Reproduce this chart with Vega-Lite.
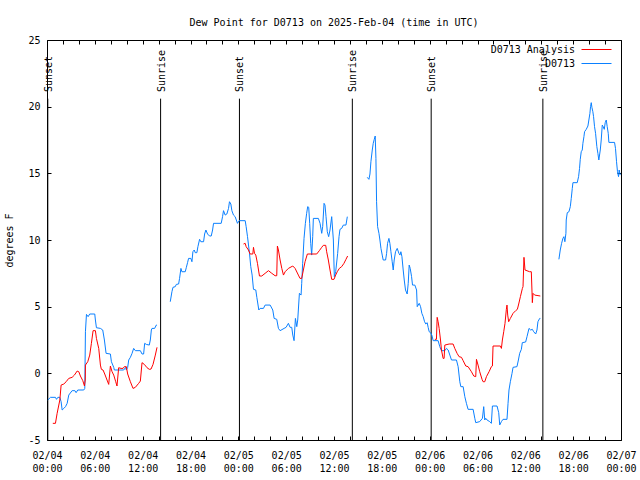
{
"$schema": "https://vega.github.io/schema/vega-lite/v6.json",
"width": 574,
"height": 400,
"autosize": {"type": "none"},
"padding": {"left": 47, "top": 40, "right": 19, "bottom": 40},
"background": "white",
"title": {"text": "Dew Point for D0713 on 2025-Feb-04 (time in UTC)", "font": "DejaVu Sans Mono", "fontSize": 10, "fontWeight": "normal", "color": "black", "anchor": "middle", "offset": 7},
"config": {
  "view": {"stroke": "black", "strokeWidth": 1},
  "font": "DejaVu Sans Mono",
  "axis": {"domain": false, "grid": false, "tickColor": "black", "tickSize": 4, "offset": -4, "tickWidth": 1, "labelFont": "DejaVu Sans Mono", "labelFontSize": 10, "labelColor": "black", "titleFont": "DejaVu Sans Mono", "titleFontSize": 10, "titleFontWeight": "normal", "titleColor": "black", "labelOverlap": false, "labelFlush": false, "labelBound": false},
  "legend": {"labelFont": "DejaVu Sans Mono", "labelFontSize": 10, "labelColor": "black"}
},
"resolve": {"axis": {"x": "independent", "y": "independent"}},
"layer": [
  {
    "data": {"name": "sun", "values": [
      {"hour": 0.1, "event": "Sunset"},
      {"hour": 14.25, "event": "Sunrise"},
      {"hour": 24.14, "event": "Sunset"},
      {"hour": 38.3, "event": "Sunrise"},
      {"hour": 48.19, "event": "Sunset"},
      {"hour": 62.2, "event": "Sunrise"}
    ]},
    "mark": {"type": "rule", "color": "black", "strokeWidth": 1},
    "encoding": {
      "x": {"field": "hour", "type": "quantitative", "scale": {"domain": [0, 72], "nice": false, "zero": false},
            "axis": {"orient": "bottom", "title": null, "values": [0,2,4,6,8,10,12,14,16,18,20,22,24,26,28,30,32,34,36,38,40,42,44,46,48,50,52,54,56,58,60,62,64,66,68,70,72],
                     "labelPadding": 10, "labelLineHeight": 13,
                     "labelExpr": "datum.value % 6 == 0 ? ['02/0' + (4 + floor(datum.value / 24)), (datum.value % 24 < 10 ? '0' : '') + (datum.value % 24) + ':00'] : ''"}},
      "y": {"datum": 20.6, "type": "quantitative", "scale": {"domain": [-5, 25], "nice": false, "zero": false},
            "axis": {"orient": "left", "title": "degrees F", "values": [-5, 0, 5, 10, 15, 20, 25], "labelPadding": 7, "titlePadding": 13, "labelExpr": "datum.value + ''"}},
      "y2": {"datum": -5}
    }
  },
  {
    "data": {"name": "sun"},
    "mark": {"type": "text", "angle": 270, "align": "left", "baseline": "middle", "font": "DejaVu Sans Mono", "fontSize": 10, "color": "black", "dy": 1},
    "encoding": {
      "x": {"field": "hour", "type": "quantitative", "axis": null},
      "y": {"datum": 21.1, "type": "quantitative", "axis": null},
      "text": {"field": "event"}
    }
  },
  {
    "data": {"values": [
{"series":"D0713","seg":1,"hour":0.10,"dp":-2.00},{"series":"D0713","seg":1,"hour":0.44,"dp":-1.80},{"series":"D0713","seg":1,"hour":1.06,"dp":-1.80},{"series":"D0713","seg":1,"hour":1.19,"dp":-1.95},{"series":"D0713","seg":1,"hour":1.36,"dp":-1.80},{"series":"D0713","seg":1,"hour":1.61,"dp":-1.80},{"series":"D0713","seg":1,"hour":1.77,"dp":-2.13},{"series":"D0713","seg":1,"hour":1.90,"dp":-2.75},{"series":"D0713","seg":1,"hour":2.11,"dp":-2.63},{"series":"D0713","seg":1,"hour":2.32,"dp":-2.50},{"series":"D0713","seg":1,"hour":2.53,"dp":-2.25},{"series":"D0713","seg":1,"hour":2.73,"dp":-1.63},{"series":"D0713","seg":1,"hour":3.15,"dp":-1.30},{"series":"D0713","seg":1,"hour":3.50,"dp":-1.30},{"series":"D0713","seg":1,"hour":3.65,"dp":-1.45},{"series":"D0713","seg":1,"hour":3.86,"dp":-1.25},{"series":"D0713","seg":1,"hour":4.61,"dp":-1.25},{"series":"D0713","seg":1,"hour":4.74,"dp":-1.13},{"series":"D0713","seg":1,"hour":4.82,"dp":3.12},{"series":"D0713","seg":1,"hour":4.95,"dp":4.42},{"series":"D0713","seg":1,"hour":5.16,"dp":4.25},{"series":"D0713","seg":1,"hour":5.36,"dp":4.45},{"series":"D0713","seg":1,"hour":5.99,"dp":4.45},{"series":"D0713","seg":1,"hour":6.07,"dp":4.00},{"series":"D0713","seg":1,"hour":6.20,"dp":3.42},{"series":"D0713","seg":1,"hour":6.70,"dp":3.37},{"series":"D0713","seg":1,"hour":6.99,"dp":3.25},{"series":"D0713","seg":1,"hour":7.20,"dp":2.50},{"series":"D0713","seg":1,"hour":7.41,"dp":1.50},{"series":"D0713","seg":1,"hour":7.95,"dp":1.45},{"series":"D0713","seg":1,"hour":8.08,"dp":0.87},{"series":"D0713","seg":1,"hour":8.37,"dp":0.45},{"series":"D0713","seg":1,"hour":8.45,"dp":0.25},{"series":"D0713","seg":1,"hour":9.62,"dp":0.25},{"series":"D0713","seg":1,"hour":9.87,"dp":0.45},{"series":"D0713","seg":1,"hour":9.95,"dp":0.25},{"series":"D0713","seg":1,"hour":10.12,"dp":0.45},{"series":"D0713","seg":1,"hour":10.25,"dp":1.00},{"series":"D0713","seg":1,"hour":10.46,"dp":1.20},{"series":"D0713","seg":1,"hour":10.67,"dp":1.50},{"series":"D0713","seg":1,"hour":10.87,"dp":1.87},{"series":"D0713","seg":1,"hour":11.08,"dp":1.70},{"series":"D0713","seg":1,"hour":11.71,"dp":1.70},{"series":"D0713","seg":1,"hour":11.92,"dp":1.45},{"series":"D0713","seg":1,"hour":12.12,"dp":1.45},{"series":"D0713","seg":1,"hour":12.25,"dp":2.25},{"series":"D0713","seg":1,"hour":12.46,"dp":2.17},{"series":"D0713","seg":1,"hour":12.83,"dp":2.12},{"series":"D0713","seg":1,"hour":12.96,"dp":2.50},{"series":"D0713","seg":1,"hour":13.09,"dp":3.25},{"series":"D0713","seg":1,"hour":13.17,"dp":3.37},{"series":"D0713","seg":1,"hour":13.50,"dp":3.37},{"series":"D0713","seg":1,"hour":13.71,"dp":3.62},{"series":"D0713","seg":1,"hour":13.80,"dp":3.62},
{"series":"D0713 Analysis","seg":1,"hour":0.73,"dp":-3.75},{"series":"D0713 Analysis","seg":1,"hour":1.06,"dp":-3.75},{"series":"D0713 Analysis","seg":1,"hour":1.27,"dp":-3.0},{"series":"D0713 Analysis","seg":1,"hour":1.61,"dp":-2.0},{"series":"D0713 Analysis","seg":1,"hour":1.77,"dp":-0.88},{"series":"D0713 Analysis","seg":1,"hour":2.11,"dp":-0.80},{"series":"D0713 Analysis","seg":1,"hour":2.40,"dp":-0.63},{"series":"D0713 Analysis","seg":1,"hour":2.73,"dp":-0.38},{"series":"D0713 Analysis","seg":1,"hour":3.15,"dp":-0.30},{"series":"D0713 Analysis","seg":1,"hour":3.44,"dp":-0.13},{"series":"D0713 Analysis","seg":1,"hour":3.78,"dp":0.17},{"series":"D0713 Analysis","seg":1,"hour":3.99,"dp":0.12},{"series":"D0713 Analysis","seg":1,"hour":4.19,"dp":-0.2},{"series":"D0713 Analysis","seg":1,"hour":4.49,"dp":-0.55},{"series":"D0713 Analysis","seg":1,"hour":4.70,"dp":-0.95},{"series":"D0713 Analysis","seg":1,"hour":4.80,"dp":-0.5},{"series":"D0713 Analysis","seg":1,"hour":4.82,"dp":0.62},{"series":"D0713 Analysis","seg":1,"hour":5.11,"dp":0.87},{"series":"D0713 Analysis","seg":1,"hour":5.36,"dp":1.37},{"series":"D0713 Analysis","seg":1,"hour":5.57,"dp":2.25},{"series":"D0713 Analysis","seg":1,"hour":5.78,"dp":3.2},{"series":"D0713 Analysis","seg":1,"hour":6.07,"dp":3.2},{"series":"D0713 Analysis","seg":1,"hour":6.20,"dp":2.62},{"series":"D0713 Analysis","seg":1,"hour":6.49,"dp":1.87},{"series":"D0713 Analysis","seg":1,"hour":6.70,"dp":0.62},{"series":"D0713 Analysis","seg":1,"hour":6.82,"dp":0.3},{"series":"D0713 Analysis","seg":1,"hour":7.03,"dp":0.25},{"series":"D0713 Analysis","seg":1,"hour":7.24,"dp":-0.05},{"series":"D0713 Analysis","seg":1,"hour":7.53,"dp":-0.5},{"series":"D0713 Analysis","seg":1,"hour":7.74,"dp":-0.83},{"series":"D0713 Analysis","seg":1,"hour":7.95,"dp":0.55},{"series":"D0713 Analysis","seg":1,"hour":8.16,"dp":0.12},{"series":"D0713 Analysis","seg":1,"hour":8.37,"dp":-0.13},{"series":"D0713 Analysis","seg":1,"hour":8.62,"dp":-0.63},{"series":"D0713 Analysis","seg":1,"hour":8.78,"dp":-0.95},{"series":"D0713 Analysis","seg":1,"hour":8.99,"dp":0.42},{"series":"D0713 Analysis","seg":1,"hour":9.29,"dp":0.37},{"series":"D0713 Analysis","seg":1,"hour":9.54,"dp":0.37},{"series":"D0713 Analysis","seg":1,"hour":9.70,"dp":0.5},{"series":"D0713 Analysis","seg":1,"hour":9.95,"dp":0.5},{"series":"D0713 Analysis","seg":1,"hour":10.12,"dp":-0.05},{"series":"D0713 Analysis","seg":1,"hour":10.46,"dp":-0.63},{"series":"D0713 Analysis","seg":1,"hour":10.79,"dp":-1.13},{"series":"D0713 Analysis","seg":1,"hour":11.08,"dp":-1.05},{"series":"D0713 Analysis","seg":1,"hour":11.50,"dp":-0.75},{"series":"D0713 Analysis","seg":1,"hour":11.71,"dp":-0.58},{"series":"D0713 Analysis","seg":1,"hour":11.92,"dp":0.8},{"series":"D0713 Analysis","seg":1,"hour":12.21,"dp":0.67},{"series":"D0713 Analysis","seg":1,"hour":12.55,"dp":0.42},{"series":"D0713 Analysis","seg":1,"hour":12.83,"dp":0.3},{"series":"D0713 Analysis","seg":1,"hour":13.05,"dp":0.32},{"series":"D0713 Analysis","seg":1,"hour":13.30,"dp":0.67},{"series":"D0713 Analysis","seg":1,"hour":13.59,"dp":1.37},{"series":"D0713 Analysis","seg":1,"hour":13.80,"dp":1.95},
{"series":"D0713","seg":2,"hour":15.46,"dp":5.37},{"series":"D0713","seg":2,"hour":15.67,"dp":6.12},{"series":"D0713","seg":2,"hour":15.80,"dp":6.45},{"series":"D0713","seg":2,"hour":16.09,"dp":6.5},{"series":"D0713","seg":2,"hour":16.22,"dp":6.67},{"series":"D0713","seg":2,"hour":16.51,"dp":6.7},{"series":"D0713","seg":2,"hour":16.63,"dp":7.12},{"series":"D0713","seg":2,"hour":16.80,"dp":7.87},{"series":"D0713","seg":2,"hour":16.92,"dp":7.62},{"series":"D0713","seg":2,"hour":17.34,"dp":7.62},{"series":"D0713","seg":2,"hour":17.47,"dp":7.92},{"series":"D0713","seg":2,"hour":17.63,"dp":8.3},{"series":"D0713","seg":2,"hour":17.76,"dp":8.62},{"series":"D0713","seg":2,"hour":18.05,"dp":8.62},{"series":"D0713","seg":2,"hour":18.18,"dp":8.37},{"series":"D0713","seg":2,"hour":18.30,"dp":9.12},{"series":"D0713","seg":2,"hour":18.47,"dp":9.25},{"series":"D0713","seg":2,"hour":18.59,"dp":9.05},{"series":"D0713","seg":2,"hour":18.80,"dp":9.05},{"series":"D0713","seg":2,"hour":18.93,"dp":9.5},{"series":"D0713","seg":2,"hour":19.14,"dp":10.05},{"series":"D0713","seg":2,"hour":19.30,"dp":9.87},{"series":"D0713","seg":2,"hour":19.64,"dp":9.87},{"series":"D0713","seg":2,"hour":19.77,"dp":10.45},{"series":"D0713","seg":2,"hour":19.93,"dp":10.75},{"series":"D0713","seg":2,"hour":20.14,"dp":10.45},{"series":"D0713","seg":2,"hour":20.39,"dp":10.3},{"series":"D0713","seg":2,"hour":20.60,"dp":10.3},{"series":"D0713","seg":2,"hour":20.77,"dp":10.75},{"series":"D0713","seg":2,"hour":20.89,"dp":11.25},{"series":"D0713","seg":2,"hour":21.85,"dp":11.25},{"series":"D0713","seg":2,"hour":22.02,"dp":11.75},{"series":"D0713","seg":2,"hour":22.14,"dp":12.2},{"series":"D0713","seg":2,"hour":22.35,"dp":11.87},{"series":"D0713","seg":2,"hour":22.56,"dp":11.95},{"series":"D0713","seg":2,"hour":22.77,"dp":12.37},{"series":"D0713","seg":2,"hour":22.89,"dp":12.87},{"series":"D0713","seg":2,"hour":23.06,"dp":12.7},{"series":"D0713","seg":2,"hour":23.19,"dp":12.2},{"series":"D0713","seg":2,"hour":23.39,"dp":11.87},{"series":"D0713","seg":2,"hour":23.60,"dp":11.75},{"series":"D0713","seg":2,"hour":23.89,"dp":11.25},{"series":"D0713","seg":2,"hour":24.10,"dp":11.45},{"series":"D0713","seg":2,"hour":24.86,"dp":11.45},{"series":"D0713","seg":2,"hour":24.98,"dp":11.0},{"series":"D0713","seg":2,"hour":25.15,"dp":10.25},{"series":"D0713","seg":2,"hour":25.40,"dp":9.0},{"series":"D0713","seg":2,"hour":25.56,"dp":8.0},{"series":"D0713","seg":2,"hour":25.73,"dp":7.37},{"series":"D0713","seg":2,"hour":25.90,"dp":6.3},{"series":"D0713","seg":2,"hour":26.19,"dp":6.25},{"series":"D0713","seg":2,"hour":26.32,"dp":5.7},{"series":"D0713","seg":2,"hour":26.57,"dp":4.75},{"series":"D0713","seg":2,"hour":26.73,"dp":4.87},{"series":"D0713","seg":2,"hour":27.15,"dp":4.87},{"series":"D0713","seg":2,"hour":27.36,"dp":5.12},{"series":"D0713","seg":2,"hour":27.99,"dp":5.12},{"series":"D0713","seg":2,"hour":28.32,"dp":4.75},{"series":"D0713","seg":2,"hour":28.49,"dp":4.12},{"series":"D0713","seg":2,"hour":28.82,"dp":4.05},{"series":"D0713","seg":2,"hour":29.03,"dp":3.37},{"series":"D0713","seg":2,"hour":29.24,"dp":3.2},{"series":"D0713","seg":2,"hour":29.74,"dp":3.37},{"series":"D0713","seg":2,"hour":29.99,"dp":3.45},{"series":"D0713","seg":2,"hour":30.28,"dp":3.75},{"series":"D0713","seg":2,"hour":30.49,"dp":3.45},{"series":"D0713","seg":2,"hour":30.70,"dp":3.45},{"series":"D0713","seg":2,"hour":30.83,"dp":2.87},{"series":"D0713","seg":2,"hour":30.99,"dp":2.45},{"series":"D0713","seg":2,"hour":31.16,"dp":4.12},{"series":"D0713","seg":2,"hour":31.33,"dp":3.5},{"series":"D0713","seg":2,"hour":31.45,"dp":4.0},{"series":"D0713","seg":2,"hour":31.66,"dp":6.0},{"series":"D0713","seg":2,"hour":31.87,"dp":5.87},{"series":"D0713","seg":2,"hour":31.95,"dp":6.75},{"series":"D0713","seg":2,"hour":32.07,"dp":8.25},{"series":"D0713","seg":2,"hour":32.24,"dp":10.12},{"series":"D0713","seg":2,"hour":32.41,"dp":11.25},{"series":"D0713","seg":2,"hour":32.57,"dp":12.0},{"series":"D0713","seg":2,"hour":32.70,"dp":12.5},{"series":"D0713","seg":2,"hour":32.83,"dp":12.45},{"series":"D0713","seg":2,"hour":32.95,"dp":11.25},{"series":"D0713","seg":2,"hour":33.08,"dp":9.75},{"series":"D0713","seg":2,"hour":33.20,"dp":8.87},{"series":"D0713","seg":2,"hour":33.33,"dp":10.25},{"series":"D0713","seg":2,"hour":33.41,"dp":11.62},{"series":"D0713","seg":2,"hour":34.04,"dp":11.62},{"series":"D0713","seg":2,"hour":34.25,"dp":11.25},{"series":"D0713","seg":2,"hour":34.46,"dp":10.5},{"series":"D0713","seg":2,"hour":34.58,"dp":11.0},{"series":"D0713","seg":2,"hour":34.75,"dp":12.75},{"series":"D0713","seg":2,"hour":34.87,"dp":12.62},{"series":"D0713","seg":2,"hour":35.00,"dp":11.75},{"series":"D0713","seg":2,"hour":35.16,"dp":10.62},{"series":"D0713","seg":2,"hour":35.33,"dp":10.25},{"series":"D0713","seg":2,"hour":35.50,"dp":10.75},{"series":"D0713","seg":2,"hour":35.71,"dp":11.75},{"series":"D0713","seg":2,"hour":35.92,"dp":10.0},{"series":"D0713","seg":2,"hour":36.04,"dp":7.25},{"series":"D0713","seg":2,"hour":36.21,"dp":7.62},{"series":"D0713","seg":2,"hour":36.46,"dp":9.0},{"series":"D0713","seg":2,"hour":36.63,"dp":10.25},{"series":"D0713","seg":2,"hour":36.75,"dp":10.8},{"series":"D0713","seg":2,"hour":36.96,"dp":10.87},{"series":"D0713","seg":2,"hour":37.17,"dp":11.12},{"series":"D0713","seg":2,"hour":37.50,"dp":11.12},{"series":"D0713","seg":2,"hour":37.67,"dp":11.75},
{"series":"D0713 Analysis","seg":2,"hour":24.65,"dp":9.7},{"series":"D0713 Analysis","seg":2,"hour":24.86,"dp":9.75},{"series":"D0713 Analysis","seg":2,"hour":24.98,"dp":9.5},{"series":"D0713 Analysis","seg":2,"hour":25.27,"dp":9.25},{"series":"D0713 Analysis","seg":2,"hour":25.48,"dp":8.95},{"series":"D0713 Analysis","seg":2,"hour":25.82,"dp":8.95},{"series":"D0713 Analysis","seg":2,"hour":25.90,"dp":9.45},{"series":"D0713 Analysis","seg":2,"hour":26.03,"dp":9.0},{"series":"D0713 Analysis","seg":2,"hour":26.19,"dp":8.87},{"series":"D0713 Analysis","seg":2,"hour":26.40,"dp":8.25},{"series":"D0713 Analysis","seg":2,"hour":26.65,"dp":7.3},{"series":"D0713 Analysis","seg":2,"hour":26.94,"dp":7.3},{"series":"D0713 Analysis","seg":2,"hour":27.36,"dp":7.5},{"series":"D0713 Analysis","seg":2,"hour":27.78,"dp":7.7},{"series":"D0713 Analysis","seg":2,"hour":28.20,"dp":7.5},{"series":"D0713 Analysis","seg":2,"hour":28.61,"dp":7.32},{"series":"D0713 Analysis","seg":2,"hour":28.82,"dp":7.32},{"series":"D0713 Analysis","seg":2,"hour":28.90,"dp":9.55},{"series":"D0713 Analysis","seg":2,"hour":29.03,"dp":9.25},{"series":"D0713 Analysis","seg":2,"hour":29.24,"dp":8.5},{"series":"D0713 Analysis","seg":2,"hour":29.45,"dp":7.87},{"series":"D0713 Analysis","seg":2,"hour":29.66,"dp":7.37},{"series":"D0713 Analysis","seg":2,"hour":29.87,"dp":7.62},{"series":"D0713 Analysis","seg":2,"hour":30.28,"dp":7.87},{"series":"D0713 Analysis","seg":2,"hour":30.83,"dp":8.05},{"series":"D0713 Analysis","seg":2,"hour":31.12,"dp":7.87},{"series":"D0713 Analysis","seg":2,"hour":31.53,"dp":7.37},{"series":"D0713 Analysis","seg":2,"hour":31.74,"dp":7.12},{"series":"D0713 Analysis","seg":2,"hour":31.95,"dp":7.12},{"series":"D0713 Analysis","seg":2,"hour":32.16,"dp":7.75},{"series":"D0713 Analysis","seg":2,"hour":32.37,"dp":8.37},{"series":"D0713 Analysis","seg":2,"hour":32.66,"dp":8.95},{"series":"D0713 Analysis","seg":2,"hour":33.83,"dp":8.95},{"series":"D0713 Analysis","seg":2,"hour":34.16,"dp":9.2},{"series":"D0713 Analysis","seg":2,"hour":34.46,"dp":9.45},{"series":"D0713 Analysis","seg":2,"hour":34.66,"dp":9.6},{"series":"D0713 Analysis","seg":2,"hour":34.96,"dp":9.6},{"series":"D0713 Analysis","seg":2,"hour":35.08,"dp":9.12},{"series":"D0713 Analysis","seg":2,"hour":35.29,"dp":8.5},{"series":"D0713 Analysis","seg":2,"hour":35.50,"dp":7.75},{"series":"D0713 Analysis","seg":2,"hour":35.71,"dp":7.05},{"series":"D0713 Analysis","seg":2,"hour":36.00,"dp":7.05},{"series":"D0713 Analysis","seg":2,"hour":36.21,"dp":7.37},{"series":"D0713 Analysis","seg":2,"hour":36.41,"dp":7.62},{"series":"D0713 Analysis","seg":2,"hour":36.67,"dp":7.87},{"series":"D0713 Analysis","seg":2,"hour":36.96,"dp":8.0},{"series":"D0713 Analysis","seg":2,"hour":37.25,"dp":8.25},{"series":"D0713 Analysis","seg":2,"hour":37.50,"dp":8.55},{"series":"D0713 Analysis","seg":2,"hour":37.71,"dp":8.8},
{"series":"D0713","seg":3,"hour":40.17,"dp":14.7},{"series":"D0713","seg":3,"hour":40.38,"dp":14.55},{"series":"D0713","seg":3,"hour":40.51,"dp":14.95},{"series":"D0713","seg":3,"hour":40.63,"dp":15.87},{"series":"D0713","seg":3,"hour":40.80,"dp":16.75},{"series":"D0713","seg":3,"hour":40.92,"dp":17.25},{"series":"D0713","seg":3,"hour":41.05,"dp":17.55},{"series":"D0713","seg":3,"hour":41.17,"dp":17.8},{"series":"D0713","seg":3,"hour":41.26,"dp":16.12},{"series":"D0713","seg":3,"hour":41.34,"dp":12.87},{"series":"D0713","seg":3,"hour":41.47,"dp":11.0},{"series":"D0713","seg":3,"hour":41.64,"dp":10.5},{"series":"D0713","seg":3,"hour":41.76,"dp":10.0},{"series":"D0713","seg":3,"hour":41.89,"dp":9.37},{"series":"D0713","seg":3,"hour":42.05,"dp":8.87},{"series":"D0713","seg":3,"hour":42.17,"dp":8.5},{"series":"D0713","seg":3,"hour":42.47,"dp":8.5},{"series":"D0713","seg":3,"hour":42.60,"dp":9.0},{"series":"D0713","seg":3,"hour":42.72,"dp":9.75},{"series":"D0713","seg":3,"hour":42.89,"dp":10.12},{"series":"D0713","seg":3,"hour":43.01,"dp":9.75},{"series":"D0713","seg":3,"hour":43.14,"dp":9.12},{"series":"D0713","seg":3,"hour":43.30,"dp":8.37},{"series":"D0713","seg":3,"hour":43.43,"dp":7.75},{"series":"D0713","seg":3,"hour":43.55,"dp":8.5},{"series":"D0713","seg":3,"hour":43.72,"dp":9.12},{"series":"D0713","seg":3,"hour":43.93,"dp":9.37},{"series":"D0713","seg":3,"hour":44.14,"dp":9.0},{"series":"D0713","seg":3,"hour":44.27,"dp":8.87},{"series":"D0713","seg":3,"hour":44.39,"dp":9.12},{"series":"D0713","seg":3,"hour":44.52,"dp":8.75},{"series":"D0713","seg":3,"hour":44.68,"dp":7.75},{"series":"D0713","seg":3,"hour":44.81,"dp":7.0},{"series":"D0713","seg":3,"hour":44.97,"dp":6.25},{"series":"D0713","seg":3,"hour":45.18,"dp":5.95},{"series":"D0713","seg":3,"hour":45.31,"dp":6.75},{"series":"D0713","seg":3,"hour":45.43,"dp":8.12},{"series":"D0713","seg":3,"hour":45.56,"dp":7.87},{"series":"D0713","seg":3,"hour":45.73,"dp":7.25},{"series":"D0713","seg":3,"hour":45.85,"dp":6.62},{"series":"D0713","seg":3,"hour":46.14,"dp":6.62},{"series":"D0713","seg":3,"hour":46.36,"dp":6.25},{"series":"D0713","seg":3,"hour":46.44,"dp":5.0},{"series":"D0713","seg":3,"hour":46.69,"dp":5.25},{"series":"D0713","seg":3,"hour":46.86,"dp":5.0},{"series":"D0713","seg":3,"hour":47.02,"dp":4.5},{"series":"D0713","seg":3,"hour":47.19,"dp":4.25},{"series":"D0713","seg":3,"hour":47.36,"dp":3.87},{"series":"D0713","seg":3,"hour":47.52,"dp":3.7},{"series":"D0713","seg":3,"hour":47.69,"dp":3.8},{"series":"D0713","seg":3,"hour":47.81,"dp":3.45},{"series":"D0713","seg":3,"hour":47.94,"dp":3.12},{"series":"D0713","seg":3,"hour":48.11,"dp":3.05},{"series":"D0713","seg":3,"hour":48.27,"dp":2.87},{"series":"D0713","seg":3,"hour":48.44,"dp":2.45},{"series":"D0713","seg":3,"hour":49.06,"dp":2.45},{"series":"D0713","seg":3,"hour":49.27,"dp":2.0},{"series":"D0713","seg":3,"hour":49.48,"dp":1.7},{"series":"D0713","seg":3,"hour":49.90,"dp":1.7},{"series":"D0713","seg":3,"hour":50.11,"dp":1.87},{"series":"D0713","seg":3,"hour":50.32,"dp":1.75},{"series":"D0713","seg":3,"hour":50.53,"dp":1.37},{"series":"D0713","seg":3,"hour":50.74,"dp":1.0},{"series":"D0713","seg":3,"hour":51.36,"dp":1.0},{"series":"D0713","seg":3,"hour":51.57,"dp":0.5},{"series":"D0713","seg":3,"hour":51.78,"dp":-0.63},{"series":"D0713","seg":3,"hour":51.91,"dp":-1.0},{"series":"D0713","seg":3,"hour":52.20,"dp":-1.0},{"series":"D0713","seg":3,"hour":52.41,"dp":-1.75},{"series":"D0713","seg":3,"hour":52.61,"dp":-2.25},{"series":"D0713","seg":3,"hour":52.82,"dp":-2.7},{"series":"D0713","seg":3,"hour":53.45,"dp":-2.7},{"series":"D0713","seg":3,"hour":53.66,"dp":-3.37},{"series":"D0713","seg":3,"hour":53.78,"dp":-3.7},{"series":"D0713","seg":3,"hour":54.28,"dp":-3.62},{"series":"D0713","seg":3,"hour":54.62,"dp":-3.37},{"series":"D0713","seg":3,"hour":54.78,"dp":-2.5},{"series":"D0713","seg":3,"hour":54.91,"dp":-3.5},{"series":"D0713","seg":3,"hour":55.03,"dp":-3.37},{"series":"D0713","seg":3,"hour":55.20,"dp":-3.5},{"series":"D0713","seg":3,"hour":55.53,"dp":-3.62},{"series":"D0713","seg":3,"hour":55.74,"dp":-3.75},{"series":"D0713","seg":3,"hour":55.87,"dp":-2.45},{"series":"D0713","seg":3,"hour":56.45,"dp":-2.45},{"series":"D0713","seg":3,"hour":56.66,"dp":-2.95},{"series":"D0713","seg":3,"hour":56.79,"dp":-3.87},{"series":"D0713","seg":3,"hour":57.00,"dp":-3.62},{"series":"D0713","seg":3,"hour":57.20,"dp":-3.45},{"series":"D0713","seg":3,"hour":57.70,"dp":-3.45},{"series":"D0713","seg":3,"hour":57.83,"dp":-2.25},{"series":"D0713","seg":3,"hour":57.95,"dp":-1.25},{"series":"D0713","seg":3,"hour":58.12,"dp":-0.63},{"series":"D0713","seg":3,"hour":58.33,"dp":0.0},{"series":"D0713","seg":3,"hour":58.46,"dp":0.45},{"series":"D0713","seg":3,"hour":58.95,"dp":0.5},{"series":"D0713","seg":3,"hour":59.13,"dp":1.0},{"series":"D0713","seg":3,"hour":59.29,"dp":1.5},{"series":"D0713","seg":3,"hour":59.50,"dp":1.8},{"series":"D0713","seg":3,"hour":59.62,"dp":2.3},{"series":"D0713","seg":3,"hour":60.04,"dp":2.35},{"series":"D0713","seg":3,"hour":60.21,"dp":2.75},{"series":"D0713","seg":3,"hour":60.46,"dp":3.37},{"series":"D0713","seg":3,"hour":60.67,"dp":3.25},{"series":"D0713","seg":3,"hour":60.88,"dp":3.3},{"series":"D0713","seg":3,"hour":61.05,"dp":3.12},{"series":"D0713","seg":3,"hour":61.30,"dp":2.95},{"series":"D0713","seg":3,"hour":61.46,"dp":3.25},{"series":"D0713","seg":3,"hour":61.58,"dp":3.87},{"series":"D0713","seg":3,"hour":61.80,"dp":4.12},{"series":"D0713","seg":3,"hour":61.88,"dp":4.12},
{"series":"D0713 Analysis","seg":3,"hour":48.65,"dp":2.55},{"series":"D0713 Analysis","seg":3,"hour":48.85,"dp":2.55},{"series":"D0713 Analysis","seg":3,"hour":48.94,"dp":4.2},{"series":"D0713 Analysis","seg":3,"hour":49.06,"dp":3.87},{"series":"D0713 Analysis","seg":3,"hour":49.19,"dp":3.37},{"series":"D0713 Analysis","seg":3,"hour":49.36,"dp":2.5},{"series":"D0713 Analysis","seg":3,"hour":49.48,"dp":1.75},{"series":"D0713 Analysis","seg":3,"hour":49.69,"dp":1.12},{"series":"D0713 Analysis","seg":3,"hour":49.81,"dp":1.12},{"series":"D0713 Analysis","seg":3,"hour":49.90,"dp":2.12},{"series":"D0713 Analysis","seg":3,"hour":50.44,"dp":2.2},{"series":"D0713 Analysis","seg":3,"hour":50.94,"dp":2.2},{"series":"D0713 Analysis","seg":3,"hour":51.15,"dp":1.87},{"series":"D0713 Analysis","seg":3,"hour":51.44,"dp":1.5},{"series":"D0713 Analysis","seg":3,"hour":51.69,"dp":1.25},{"series":"D0713 Analysis","seg":3,"hour":51.99,"dp":1.2},{"series":"D0713 Analysis","seg":3,"hour":52.20,"dp":0.95},{"series":"D0713 Analysis","seg":3,"hour":52.53,"dp":0.55},{"series":"D0713 Analysis","seg":3,"hour":52.82,"dp":0.5},{"series":"D0713 Analysis","seg":3,"hour":53.24,"dp":0.12},{"series":"D0713 Analysis","seg":3,"hour":53.53,"dp":-0.2},{"series":"D0713 Analysis","seg":3,"hour":53.78,"dp":-0.25},{"series":"D0713 Analysis","seg":3,"hour":53.87,"dp":1.05},{"series":"D0713 Analysis","seg":3,"hour":54.07,"dp":0.62},{"series":"D0713 Analysis","seg":3,"hour":54.28,"dp":0.12},{"series":"D0713 Analysis","seg":3,"hour":54.57,"dp":-0.45},{"series":"D0713 Analysis","seg":3,"hour":54.70,"dp":-0.63},{"series":"D0713 Analysis","seg":3,"hour":54.91,"dp":-0.63},{"series":"D0713 Analysis","seg":3,"hour":55.12,"dp":-0.25},{"series":"D0713 Analysis","seg":3,"hour":55.45,"dp":0.12},{"series":"D0713 Analysis","seg":3,"hour":55.74,"dp":0.5},{"series":"D0713 Analysis","seg":3,"hour":55.87,"dp":0.55},{"series":"D0713 Analysis","seg":3,"hour":55.95,"dp":2.05},{"series":"D0713 Analysis","seg":3,"hour":56.87,"dp":2.05},{"series":"D0713 Analysis","seg":3,"hour":57.00,"dp":1.87},{"series":"D0713 Analysis","seg":3,"hour":57.12,"dp":2.5},{"series":"D0713 Analysis","seg":3,"hour":57.29,"dp":3.12},{"series":"D0713 Analysis","seg":3,"hour":57.45,"dp":3.75},{"series":"D0713 Analysis","seg":3,"hour":57.62,"dp":4.8},{"series":"D0713 Analysis","seg":3,"hour":57.70,"dp":5.12},{"series":"D0713 Analysis","seg":3,"hour":57.79,"dp":4.37},{"series":"D0713 Analysis","seg":3,"hour":57.91,"dp":3.87},{"series":"D0713 Analysis","seg":3,"hour":58.12,"dp":4.12},{"series":"D0713 Analysis","seg":3,"hour":58.46,"dp":4.5},{"series":"D0713 Analysis","seg":3,"hour":58.79,"dp":4.7},{"series":"D0713 Analysis","seg":3,"hour":59.00,"dp":4.8},{"series":"D0713 Analysis","seg":3,"hour":59.17,"dp":5.2},{"series":"D0713 Analysis","seg":3,"hour":59.38,"dp":5.75},{"series":"D0713 Analysis","seg":3,"hour":59.63,"dp":6.37},{"series":"D0713 Analysis","seg":3,"hour":59.71,"dp":6.5},{"series":"D0713 Analysis","seg":3,"hour":59.83,"dp":8.7},{"series":"D0713 Analysis","seg":3,"hour":59.96,"dp":7.75},{"series":"D0713 Analysis","seg":3,"hour":60.54,"dp":7.62},{"series":"D0713 Analysis","seg":3,"hour":60.75,"dp":7.62},{"series":"D0713 Analysis","seg":3,"hour":60.83,"dp":6.25},{"series":"D0713 Analysis","seg":3,"hour":60.88,"dp":5.3},{"series":"D0713 Analysis","seg":3,"hour":60.96,"dp":6.0},{"series":"D0713 Analysis","seg":3,"hour":61.17,"dp":5.87},{"series":"D0713 Analysis","seg":3,"hour":61.88,"dp":5.8},
{"series":"D0713","seg":4,"hour":64.21,"dp":8.55},{"series":"D0713","seg":4,"hour":64.38,"dp":9.25},{"series":"D0713","seg":4,"hour":64.55,"dp":9.75},{"series":"D0713","seg":4,"hour":64.71,"dp":10.12},{"series":"D0713","seg":4,"hour":64.84,"dp":10.25},{"series":"D0713","seg":4,"hour":64.96,"dp":9.87},{"series":"D0713","seg":4,"hour":65.09,"dp":10.5},{"series":"D0713","seg":4,"hour":65.13,"dp":11.5},{"series":"D0713","seg":4,"hour":65.26,"dp":12.05},{"series":"D0713","seg":4,"hour":65.47,"dp":12.12},{"series":"D0713","seg":4,"hour":65.64,"dp":12.5},{"series":"D0713","seg":4,"hour":65.76,"dp":13.12},{"series":"D0713","seg":4,"hour":65.89,"dp":13.87},{"series":"D0713","seg":4,"hour":65.97,"dp":14.3},{"series":"D0713","seg":4,"hour":66.51,"dp":14.3},{"series":"D0713","seg":4,"hour":66.68,"dp":14.75},{"series":"D0713","seg":4,"hour":66.80,"dp":15.37},{"series":"D0713","seg":4,"hour":66.89,"dp":16.05},{"series":"D0713","seg":4,"hour":67.01,"dp":16.62},{"series":"D0713","seg":4,"hour":67.14,"dp":16.75},{"series":"D0713","seg":4,"hour":67.22,"dp":17.25},{"series":"D0713","seg":4,"hour":67.35,"dp":17.75},{"series":"D0713","seg":4,"hour":67.43,"dp":18.12},{"series":"D0713","seg":4,"hour":67.64,"dp":18.3},{"series":"D0713","seg":4,"hour":67.85,"dp":18.55},{"series":"D0713","seg":4,"hour":67.97,"dp":19.0},{"series":"D0713","seg":4,"hour":68.10,"dp":19.5},{"series":"D0713","seg":4,"hour":68.18,"dp":20.0},{"series":"D0713","seg":4,"hour":68.27,"dp":20.3},{"series":"D0713","seg":4,"hour":68.35,"dp":19.95},{"series":"D0713","seg":4,"hour":68.47,"dp":19.62},{"series":"D0713","seg":4,"hour":68.56,"dp":19.25},{"series":"D0713","seg":4,"hour":68.68,"dp":18.5},{"series":"D0713","seg":4,"hour":68.81,"dp":18.0},{"series":"D0713","seg":4,"hour":68.97,"dp":17.0},{"series":"D0713","seg":4,"hour":69.10,"dp":16.5},{"series":"D0713","seg":4,"hour":69.22,"dp":16.0},{"series":"D0713","seg":4,"hour":69.40,"dp":16.75},{"series":"D0713","seg":4,"hour":69.52,"dp":17.5},{"series":"D0713","seg":4,"hour":69.65,"dp":18.62},{"series":"D0713","seg":4,"hour":69.77,"dp":18.5},{"series":"D0713","seg":4,"hour":69.90,"dp":18.3},{"series":"D0713","seg":4,"hour":70.02,"dp":18.8},{"series":"D0713","seg":4,"hour":70.15,"dp":19.0},{"series":"D0713","seg":4,"hour":70.27,"dp":18.5},{"series":"D0713","seg":4,"hour":70.40,"dp":18.0},{"series":"D0713","seg":4,"hour":70.48,"dp":17.32},{"series":"D0713","seg":4,"hour":71.19,"dp":17.32},{"series":"D0713","seg":4,"hour":71.31,"dp":16.87},{"series":"D0713","seg":4,"hour":71.44,"dp":15.87},{"series":"D0713","seg":4,"hour":71.56,"dp":15.12},{"series":"D0713","seg":4,"hour":71.69,"dp":14.75},{"series":"D0713","seg":4,"hour":71.77,"dp":15.25},{"series":"D0713","seg":4,"hour":71.90,"dp":14.87}
    ]},
    "mark": {"type": "line", "strokeWidth": 1, "interpolate": "linear"},
    "encoding": {
      "x": {"field": "hour", "type": "quantitative",
            "axis": {"orient": "top", "title": null, "labels": false, "values": [0,2,4,6,8,10,12,14,16,18,20,22,24,26,28,30,32,34,36,38,40,42,44,46,48,50,52,54,56,58,60,62,64,66,68,70,72]}},
      "y": {"field": "dp", "type": "quantitative",
            "axis": {"orient": "right", "title": null, "labels": false, "values": [-5, 0, 5, 10, 15, 20, 25]}},
      "color": {"field": "series", "type": "nominal",
                "scale": {"domain": ["D0713 Analysis", "D0713"], "range": ["#ff0000", "#0a80ff"]},
                "legend": {"orient": "none", "legendX": 544, "legendY": 4, "title": null, "symbolType": "M-3,0H3", "symbolSize": 100, "symbolStrokeWidth": 1, "symbolFillColor": "transparent", "labelAlign": "right", "labelOffset": -27, "rowPadding": 3, "padding": 0}},
      "detail": {"field": "seg", "type": "nominal"},
      "order": {"field": "hour", "type": "quantitative"}
    }
  }
]
}
